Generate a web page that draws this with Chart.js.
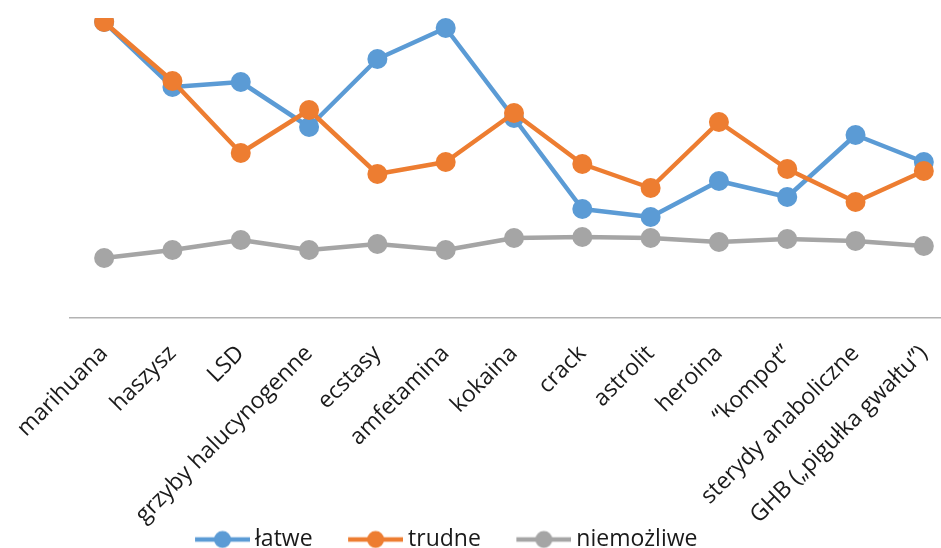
<!DOCTYPE html>
<html>
<head>
<meta charset="utf-8">
<script src="https://cdn.jsdelivr.net/npm/chart.js@4"></script>
<style>
  html, body { margin: 0; padding: 0; background: #fff; overflow: hidden; width: 941px; height: 548px; }
  #wrap { position: absolute; left: -101px; top: 0; }
</style>
</head>
<body>
<div id="wrap"><canvas id="chart" width="1071" height="561"></canvas></div>
<script>
const categories = ['marihuana', 'haszysz', 'LSD', 'grzyby halucynogenne', 'ecstasy', 'amfetamina',
  'kokaina', 'crack', 'astrolit', 'heroina', '“kompot”', 'sterydy anaboliczne', 'GHB („pigułka gwałtu”)'];

const latwe      = [59.2, 46.2, 47.2, 38.2, 51.8, 58.0, 40.0, 21.8, 20.2, 27.4, 24.2, 36.6, 31.2];
const trudne     = [59.2, 47.4, 33.0, 41.6, 28.8, 31.2, 41.0, 30.8, 26.0, 39.2, 29.8, 23.2, 29.4];
const niemozliwe = [12.0, 13.6, 15.6, 13.6, 14.8, 13.6, 16.0, 16.2, 16.0, 15.2, 15.8, 15.4, 14.4];

const BLUE = '#5B9BD5';
const ORANGE = '#ED7D31';
const GRAY = '#A5A5A5';
const FONT = "'Open Sans', sans-serif";

// line + dot swatch for the legend, like the Excel one
// (left part of the image is empty, it makes the gap between items)
legendImage = (color) => {
  const c = document.createElement('canvas');
  c.width = 97;
  c.height = 22;
  const g = c.getContext('2d');
  g.strokeStyle = color;
  g.lineWidth = 4.5;
  g.beginPath();
  g.moveTo(42, 11);
  g.lineTo(97, 11);
  g.stroke();
  g.fillStyle = color;
  g.beginPath();
  g.arc(69.5, 11, 8.5, 0, 2 * Math.PI);
  g.fill();
  return c;
}

const swatches = [legendImage(BLUE), legendImage(ORANGE), legendImage(GRAY)];

makeSeries = (label, data, color, order) => ({
  label: label,
  data: data,
  borderColor: color,
  backgroundColor: color,
  borderWidth: 4.5,
  pointRadius: 10,
  pointHoverRadius: 10,
  pointBorderWidth: 0,
  pointBackgroundColor: color,
  borderJoinStyle: 'round',
  tension: 0,
  order: order
});

const data = {
  labels: categories,
  datasets: [
    makeSeries('łatwe', latwe, BLUE, 2),
    makeSeries('trudne', trudne, ORANGE, 1),
    makeSeries('niemożliwe', niemozliwe, GRAY, 3)
  ]
};

const config = {
  type: 'line',
  data: data,
  options: {
    responsive: false,
    animation: false,
    events: [],
    layout: { padding: { top: 18, right: 12, bottom: 0, left: 0 } },
    plugins: {
      tooltip: { enabled: false },
      legend: {
        position: 'bottom',
        labels: {
          usePointStyle: true,
          pointStyleWidth: 84,
          padding: 0,
          color: '#1a1a1a',
          font: { family: FONT, size: 23 },
          sort: (a, b) => a.datasetIndex - b.datasetIndex,
          generateLabels: (chart) => {
            const items = Chart.defaults.plugins.legend.labels.generateLabels(chart);
            items.forEach(it => { it.pointStyle = swatches[it.datasetIndex]; });
            return items;
          }
        }
      }
    },
    scales: {
      x: {
        offset: true,
        grid: { display: false, drawTicks: false },
        border: { display: true, color: '#b3b3b3', width: 1.5 },
        ticks: {
          color: '#1a1a1a',
          font: { family: FONT, size: 23 },
          minRotation: 45,
          maxRotation: 45,
          autoSkip: false,
          padding: 22
        },
        afterFit: (scale) => { scale.height = 210; }
      },
      y: {
        min: 0,
        max: 60,
        grid: { display: false, drawTicks: false },
        border: { display: false },
        ticks: { display: false },
        afterFit: (scale) => { scale.width = 171; }
      }
    }
  }
};

const myChart = new Chart(document.getElementById('chart'), config);
</script>
</body>
</html>
